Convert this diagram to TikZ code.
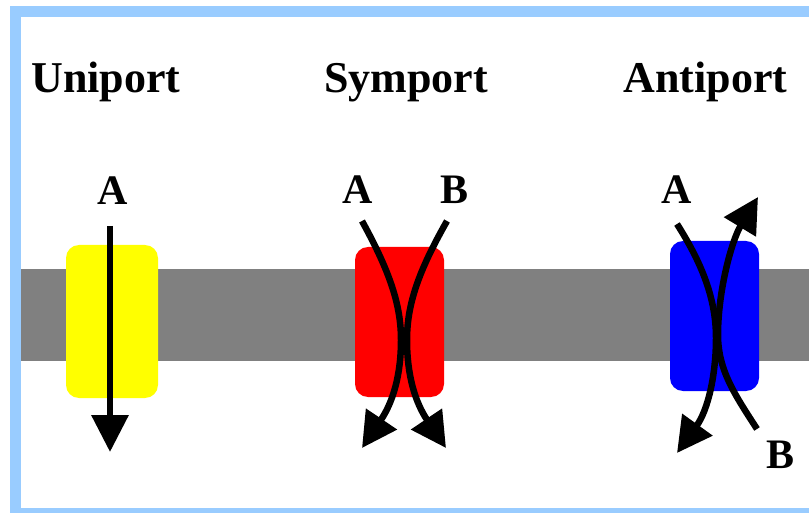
\documentclass[tikz,border=0pt]{standalone}
\usepackage{fontspec}
\setmainfont{Liberation Serif}
\usetikzlibrary{arrows.meta}
\definecolor{frameblue}{HTML}{99CCFF}
\definecolor{membrane}{HTML}{808080}
\definecolor{uniyellow}{HTML}{FFFF00}
\definecolor{symred}{HTML}{FF0000}
\definecolor{antiblue}{HTML}{0000FF}
\tikzset{
  title/.style={anchor=base, inner sep=0pt, font=\fontsize{44}{44}\selectfont\bfseries},
  lbl/.style={anchor=base, inner sep=0pt, font=\fontsize{42}{42}\selectfont\bfseries},
  carrier/.style={rounded corners=13pt, draw=none},
  flow/.style={line width=6.5pt, -{Triangle[width=36pt,length=35pt]}},
}
\begin{document}
\begin{tikzpicture}[x=1pt,y=-1pt]
\useasboundingbox (0,0) rectangle (809,513);
\clip (0,0) rectangle (809,513);
\fill[white] (0,0) rectangle (809,513);
% frame
\draw[frameblue, line width=11pt] (15.5,11.5) rectangle (830,513.5);
% membrane
\fill[membrane] (21,269) rectangle (815,361);
% carriers
\fill[uniyellow, carrier] (66,245) rectangle (158,398);
\fill[symred, carrier] (355,247) rectangle (444,397);
\fill[antiblue, carrier] (670,241) rectangle (759,391);
% titles
\node[title] (tuni) at (106,93) {Uniport};
\node[title] (tsym) at (406,93) {Symport};
\node[title] (tanti) at (705.5,93) {Antiport};
% labels
\node[lbl] (ua) at (112.5,205) {A};
\node[lbl] (sa) at (357.5,204) {A};
\node[lbl] (sb) at (454.5,204) {B};
\node[lbl] (aa) at (676.5,204) {A};
\node[lbl] (ab) at (780,468) {B};
% connector ends
\coordinate (uas) at (110,226);
\coordinate (uae) at (110,452);
\coordinate (sas) at (362,221);
\coordinate (sam) at (401,340);
\coordinate (sae) at (362,448);
\coordinate (sbs) at (447,221);
\coordinate (sbm) at (407,340);
\coordinate (sbe) at (446,448);
\coordinate (aas) at (677,224);
\coordinate (aam) at (716,338);
\coordinate (aae) at (677,453);
\coordinate (abs) at (757,429);
\coordinate (abm) at (718,335);
\coordinate (abe) at (758,197);
% uniport
\draw[flow, -{Triangle[width=36pt,length=37pt]}] (uas) -- (uae);
% symport
\draw[flow] (sas) .. controls (390,272) and (401,305) .. (sam)
  .. controls (401,375) and (393,402) .. (sae);
\draw[flow] (sbs) .. controls (418,272) and (407,305) .. (sbm)
  .. controls (407,375) and (415,402) .. (sbe);
% antiport
\draw[flow] (aas) .. controls (703,265) and (716,300) .. (aam)
  .. controls (716,375) and (708,410) .. (aae);
\draw[flow] (abs) .. controls (735,395) and (718,370) .. (abm)
  .. controls (718,290) and (732,240) .. (abe);
\end{tikzpicture}
\end{document}
